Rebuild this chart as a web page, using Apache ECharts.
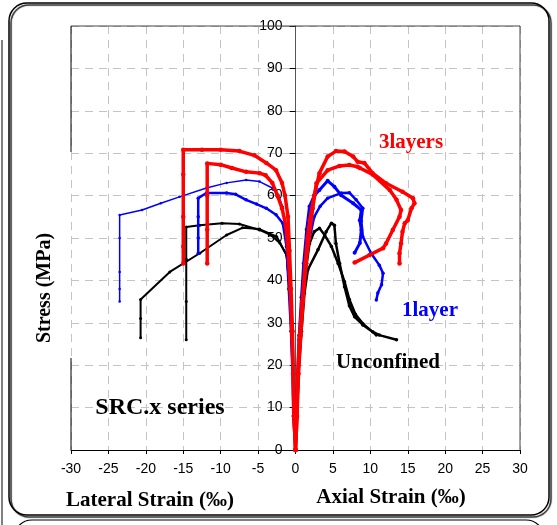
<!DOCTYPE html>
<html>
<head>
<meta charset="utf-8">
<script src="https://cdn.jsdelivr.net/npm/echarts@6/dist/echarts.min.js"></script>
<style>
  html, body { margin: 0; padding: 0; background: #fff; }
  #chart { width: 557px; height: 525px; }
</style>
</head>
<body>
<div id="chart"></div>
<script>
// strain (‰) / stress (MPa) pairs
// lateral strain is plotted negative, axial strain positive
var lat3a = [[0,0],[-0.2,8],[-0.3,18],[-0.4,28],[-0.6,38],[-0.8,47],[-1.0,55],[-1.4,60],[-1.8,63],[-2.6,66],[-3.9,67.7],[-5.5,69.5],[-7.5,70.5],[-10,70.8],[-12.5,70.8],[-15,70.8],[-15,65],[-15,55],[-15,48],[-15,44]];
var lat3b = [[0,0],[-0.2,8],[-0.3,18],[-0.5,28],[-0.7,38],[-1.0,47],[-1.3,53],[-1.8,57],[-2.4,60],[-3.1,63],[-4.0,64.8],[-4.8,65.3],[-6.6,65.6],[-8.5,66.5],[-10,67.3],[-11.8,67.6],[-11.8,60],[-11.8,52],[-11.8,44]];
var ax3a = [[0,0],[0.2,8],[0.3,18],[0.5,26],[0.9,35],[1.3,44],[1.6,50],[1.9,54.2],[2.5,60],[3.2,65.3],[4.3,69.2],[5.4,70.5],[6.55,70.4],[7.7,69.2],[8.3,68],[9.2,67.7],[10.3,65.3],[12.1,62.9],[14.3,60.9],[15.7,59.4],[15.9,58.2],[15.5,57],[15,54.2],[14.6,53.5],[14.3,51.5],[14.1,48.7],[13.9,46.4],[13.9,44]];
var ax3b = [[0,0],[0.2,8],[0.4,18],[0.7,27],[1.0,35],[1.4,44],[1.8,50],[2.3,57],[2.8,62.9],[4.3,66],[5.9,67],[7.2,67.2],[8.3,66.8],[8.6,66.5],[10.3,65],[12.6,61.3],[13.5,59],[14.1,56.6],[13.9,55],[13,51.9],[12.1,48.7],[11.7,47.6],[9.9,46],[7.9,44.2]];

var lat1a = [[0,0],[-0.3,8],[-0.4,18],[-0.6,28],[-0.8,38],[-1.1,48],[-1.4,53],[-1.7,57.3],[-2.3,60],[-3.1,61.8],[-4.8,63.3],[-6.6,63.7],[-9.2,63],[-11.9,61.8],[-15.5,59.7],[-18,58.2],[-20.5,56.6],[-23.5,55.4],[-23.5,50],[-23.5,42],[-23.5,38],[-23.5,35]];
var lat1b = [[0,0],[-0.3,8],[-0.4,18],[-0.6,28],[-0.9,38],[-1.2,48],[-1.7,53.5],[-2.6,55.5],[-3.9,57],[-5.2,58],[-6.6,59],[-8,60.3],[-9.2,60.6],[-11.9,60.6],[-13,59.4],[-13,55],[-13,50],[-13,46.4]];
var ax1a = [[0,0],[0.1,8],[0.3,18],[0.5,27],[0.8,36],[1.1,44],[1.5,52],[1.87,57.4],[2.5,60],[3.2,61.3],[4.3,63.5],[5.2,62.1],[6.1,60.1],[7.7,58.2],[8.8,56.6],[8.6,54.2],[8.8,51.9],[8.6,48.8],[7.9,46.5]];
var ax1b = [[0,0],[0.1,8],[0.3,18],[0.6,27],[0.9,36],[1.3,44],[1.9,50],[2.5,55],[3.3,57.5],[4.3,59.4],[6.1,60.6],[7.2,60.7],[8.1,59],[9,57],[8.8,54],[9,50.3],[10.1,46.4],[11.2,43.6],[11.7,41.7],[11.5,39],[11,37],[10.8,35.4]];

var lat0a = [[0,0],[-0.2,8],[-0.3,18],[-0.5,28],[-0.8,38],[-1.2,46],[-2.1,48.8],[-3.3,50.7],[-4.8,51.9],[-7.5,53.3],[-9.8,53.5],[-12.8,53],[-14.6,52.6],[-14.6,45],[-14.6,35],[-14.6,26]];
var lat0b = [[0,0],[-0.2,8],[-0.3,18],[-0.5,28],[-0.8,38],[-1.2,46],[-2.5,50.3],[-4.8,52.1],[-7.1,52.4],[-9.2,50.7],[-12.8,46.4],[-16.8,42],[-20.7,35.5],[-20.7,31],[-20.7,26.5]];
var ax0a = [[0,0],[0.2,8],[0.4,18],[0.7,28],[1.0,37],[1.5,44],[1.87,48.7],[2.5,51.5],[3.2,52.3],[3.9,50.7],[4.8,48],[5.7,44],[6.55,39.7],[7.2,35.5],[8,32],[9,29.8],[10.8,27.1]];
var ax0b = [[0,0],[0.2,8],[0.4,18],[0.8,28],[1.2,37],[1.65,42.5],[3,47.2],[4.1,51.5],[4.8,53.5],[5.2,53],[5.4,48.7],[5.9,44],[6.55,38.5],[7.2,34],[7.9,31.4],[9,29.5],[10.3,27.9],[11.2,27.1],[13.5,26]];

var RED = '#ff0000', BLUE = '#0000ff', BLACK = '#000000';

function curve(data, color, width) {
  return {
    type: 'line',
    data: data,
    showSymbol: true,
    symbol: 'circle',
    symbolSize: width + 1,
    lineStyle: { color: color, width: width },
    itemStyle: { color: color },
    animation: false,
    z: color === RED ? 4 : (color === BLUE ? 3 : 2)
  };
}

var serif = 'bold 21px "Liberation Serif", "DejaVu Serif", serif';
var GRID_LEFT = 71, GRID_RIGHT = 37, W = 557;
// shift the stress axis to the zero of the strain axis (middle of the grid)
var midOffset = -(W - GRID_LEFT - GRID_RIGHT) / 2;

var myChart = echarts.init(document.getElementById('chart'));
option = {
  backgroundColor: '#fff',
  animation: false,
  grid: {
    left: GRID_LEFT, right: GRID_RIGHT, top: 26, bottom: 75,
    show: false
  },
  xAxis: {
    type: 'value', min: -30, max: 30, interval: 5,
    axisLine: { onZero: false, lineStyle: { color: '#000' } },
    axisTick: { show: true, length: 4, lineStyle: { color: '#000' } },
    axisLabel: { color: '#000', fontSize: 14, margin: 12, fontFamily: '"Liberation Sans", Arial, sans-serif' },
    splitLine: { show: true, lineStyle: { color: '#c4c4c4', type: [8, 6], width: 1 } }
  },
  yAxis: {
    type: 'value', min: 0, max: 100, interval: 10,
    position: 'left', offset: midOffset,
    axisLine: { onZero: false, lineStyle: { color: '#555' } },
    axisTick: { show: true, length: 6, lineStyle: { color: '#000' } },
    axisLabel: { color: '#000', fontSize: 14, margin: 13, fontFamily: '"Liberation Sans", Arial, sans-serif' },
    splitLine: { show: true, lineStyle: { color: '#c4c4c4', type: [8, 6], width: 1 } }
  },
  graphic: [
    // outer frame of the figure
    { type: 'rect', z: 0, shape: { x: 9, y: 3, width: 540, height: 512, r: 18 },
      style: { fill: 'none', stroke: '#000', lineWidth: 1.5, shadowColor: 'rgba(0,0,0,0.9)', shadowOffsetX: 2, shadowOffsetY: 2, shadowBlur: 1 } },
    { type: 'rect', z: 0, shape: { x: 14, y: 520, width: 530, height: 60, r: 18 },
      style: { fill: 'none', stroke: '#000', lineWidth: 1.2 } },
    { type: 'line', z: 0, shape: { x1: 2, y1: 40, x2: 2, y2: 525 }, style: { stroke: '#000', lineWidth: 1 } },
    // plot frame, left side broken behind the y axis title
    { type: 'line', z: 1, shape: { x1: 71, y1: 26, x2: 520, y2: 26 }, style: { stroke: '#444', lineWidth: 1 } },
    { type: 'line', z: 1, shape: { x1: 520, y1: 26, x2: 520, y2: 450 }, style: { stroke: '#444', lineWidth: 1 } },
    { type: 'line', z: 1, shape: { x1: 71, y1: 26, x2: 71, y2: 152 }, style: { stroke: '#000', lineWidth: 1 } },
    { type: 'line', z: 1, shape: { x1: 71, y1: 358, x2: 71, y2: 450 }, style: { stroke: '#000', lineWidth: 1 } },
    { type: 'text', z: 10, x: 45, y: 288, rotation: Math.PI / 2,
      style: { text: 'Stress (MPa)', font: 'bold 20px "Liberation Serif", serif', fill: '#000', align: 'center', verticalAlign: 'middle' } },
    { type: 'text', z: 10, x: 150, y: 501,
      style: { text: 'Lateral Strain (‰)', font: serif, fill: '#000', align: 'center', verticalAlign: 'middle' } },
    { type: 'text', z: 10, x: 391, y: 498,
      style: { text: 'Axial Strain (‰)', font: serif, fill: '#000', align: 'center', verticalAlign: 'middle' } },
    { type: 'text', z: 10, x: 411, y: 143,
      style: { text: '3layers', font: serif, fill: RED, align: 'center', verticalAlign: 'middle' } },
    { type: 'text', z: 10, x: 430, y: 311,
      style: { text: '1layer', font: serif, fill: BLUE, align: 'center', verticalAlign: 'middle' } },
    { type: 'text', z: 10, x: 388, y: 363,
      style: { text: 'Unconfined', font: serif, fill: '#000', align: 'center', verticalAlign: 'middle' } },
    { type: 'text', z: 10, x: 160, y: 408,
      style: { text: 'SRC.x series', font: 'bold 24px "Liberation Serif", serif', fill: '#000', align: 'center', verticalAlign: 'middle' } }
  ],
  series: [
    curve(lat0a, BLACK, 2), curve(lat0b, BLACK, 2), curve(ax0a, BLACK, 2.5), curve(ax0b, BLACK, 2.5),
    curve(lat1a, BLUE, 1.5), curve(lat1b, BLUE, 2.5), curve(ax1a, BLUE, 3), curve(ax1b, BLUE, 2.5),
    curve(lat3a, RED, 3.5), curve(lat3b, RED, 3.5), curve(ax3a, RED, 3.5), curve(ax3b, RED, 3.5)
  ]
};
myChart.setOption(option);
</script>
</body>
</html>
